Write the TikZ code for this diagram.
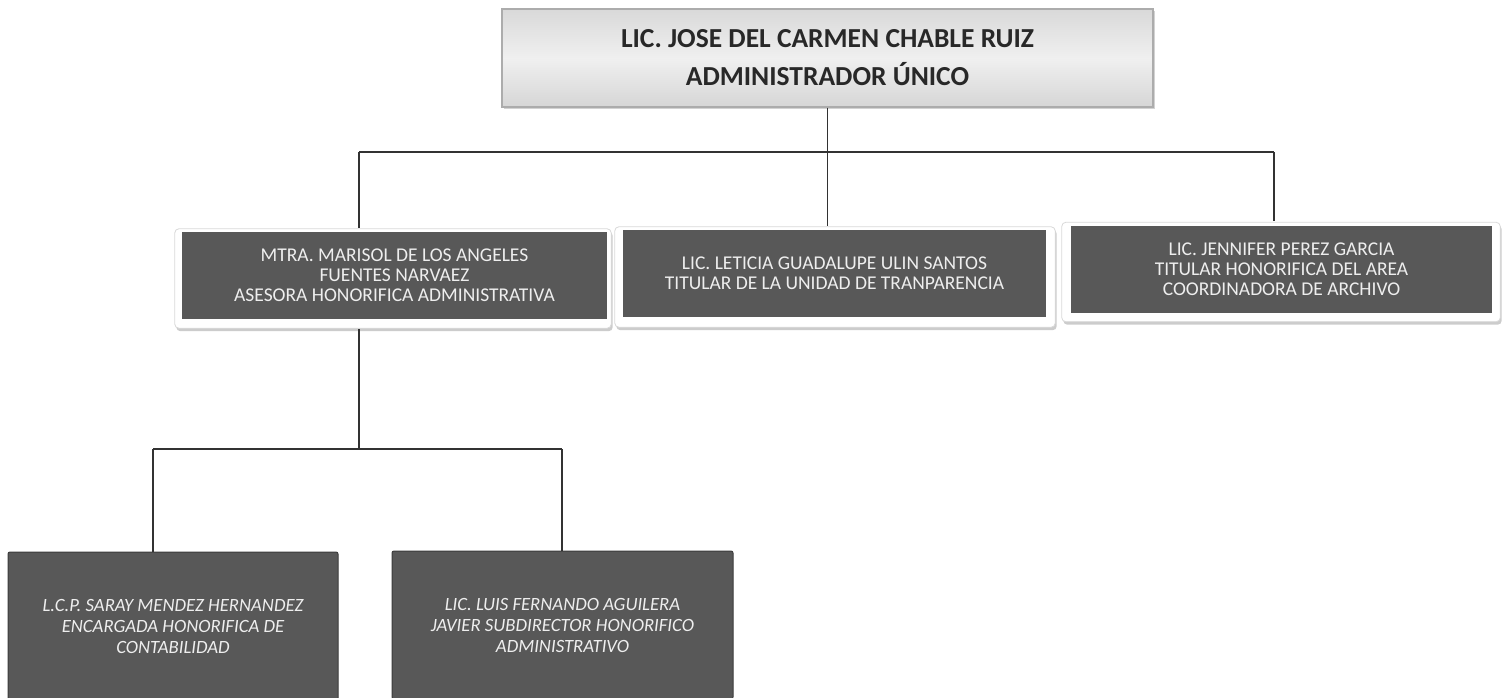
\documentclass[tikz,border=0pt]{standalone}
\usepackage{fontspec}
\setmainfont{Carlito}
\usetikzlibrary{shadows,backgrounds,calc}
\definecolor{boxdark}{RGB}{88,88,88}
\definecolor{boxedge}{RGB}{60,60,60}
\definecolor{toptext}{RGB}{40,40,40}
\definecolor{linecol}{RGB}{50,50,50}
\definecolor{lighttext}{RGB}{238,238,238}
\begin{document}
\begin{tikzpicture}[x=1pt,y=-1pt,
  topbox/.style={draw=gray!65, line width=1.5pt, shading=axis,
    top color=gray!30, bottom color=gray!32, middle color=gray!12,
    minimum width=651pt, minimum height=98pt, inner sep=0pt, align=center,
    font=\fontsize{27.5}{38}\selectfont\bfseries, text=toptext,
    drop shadow={shadow xshift=1.5pt, shadow yshift=-2pt, opacity=0.35}},
  midbox/.style={fill=boxdark, draw=none, minimum height=87pt, inner sep=0pt,
    align=center, font=\fontsize{19.5}{20}\selectfont, text=lighttext},
  midframe/.style={fill=white, draw=gray!30, line width=0.8pt, rounded corners=4pt,
    drop shadow={shadow xshift=1.5pt, shadow yshift=-3pt, opacity=0.4}},
  lowbox/.style={fill=boxdark, draw=boxedge, line width=1pt, rounded corners=2pt,
    minimum height=148pt, inner sep=0pt, align=center,
    font=\fontsize{18.7}{21}\selectfont\itshape, text=lighttext},
  conn/.style={draw=linecol, line width=1.8pt}]
\useasboundingbox (0,0) rectangle (1506,698);

% top
\node[topbox] (top) at (827.5,58) {LIC. JOSE DEL CARMEN CHABLE RUIZ\\ADMINISTRADOR ÚNICO};

% second level
\node[midbox, minimum width=425pt] (m1) at (394.5,275.5) {MTRA. MARISOL DE LOS ANGELES\\FUENTES NARVAEZ\\ASESORA HONORIFICA ADMINISTRATIVA};
\node[midbox, minimum width=423pt] (m2) at (834.5,273.5) {LIC. LETICIA GUADALUPE ULIN SANTOS\\TITULAR DE LA UNIDAD DE TRANPARENCIA};
\node[midbox, minimum width=421pt] (m3) at (1281.5,269) {LIC. JENNIFER PEREZ GARCIA\\TITULAR HONORIFICA DEL AREA\\COORDINADORA DE ARCHIVO};

\begin{scope}[on background layer]
  \fill[white] (0,0) rectangle (1506,698);
  \draw[midframe] ($(m1.north west)+(-7,-3)$) rectangle ($(m1.south east)+(4,9)$);
  \draw[midframe] ($(m2.north west)+(-8,-3)$) rectangle ($(m2.south east)+(9,10)$);
  \draw[midframe] ($(m3.north west)+(-9,-3)$) rectangle ($(m3.south east)+(8,9)$);
\end{scope}

% third level
\node[lowbox, minimum width=330pt] (b1) at (173,626) {L.C.P. SARAY MENDEZ HERNANDEZ\\ENCARGADA HONORIFICA DE\\CONTABILIDAD};
\node[lowbox, minimum width=341pt] (b2) at (562.5,625) {LIC. LUIS FERNANDO AGUILERA\\JAVIER SUBDIRECTOR HONORIFICO\\ADMINISTRATIVO};

% connectors level 1
\coordinate (d1) at (359,152);
\coordinate (d2) at (827.5,152);
\coordinate (d3) at (1274,152);
\draw[conn] (top.south) -- (d2);
\draw[conn] (d1) -- (d3);
\draw[conn] (d1) -- ($(m1.north -| d1)+(0,-4)$);
\draw[conn] (d2) -- ($(m2.north -| d2)+(0,-4)$);
\draw[conn] (d3) -- ($(m3.north -| d3)+(0,-4)$);

% connectors level 2
\coordinate (e0) at (359,449);
\coordinate (e1) at (153,449);
\coordinate (e2) at (562,449);
\draw[conn] ($(m1.south -| e0)+(0,10)$) -- (e0);
\draw[conn] (e1) -- (e2);
\draw[conn] (e1) -- (b1.north -| e1);
\draw[conn] (e2) -- (b2.north -| e2);
\end{tikzpicture}
\end{document}
